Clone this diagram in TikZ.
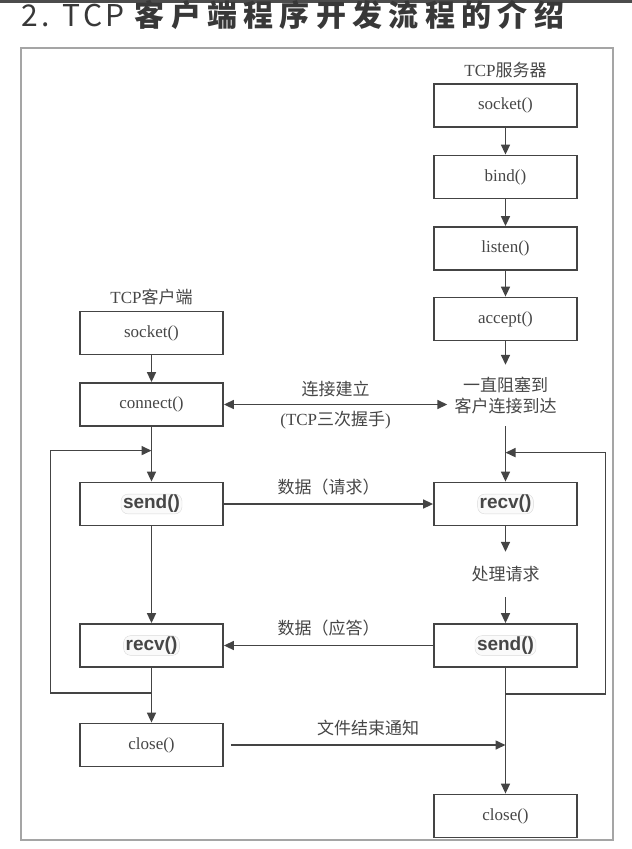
\documentclass[tikz,border=0pt]{standalone}
\usepackage{fontspec}
\setmainfont{Liberation Serif}
\newfontfamily\zhfont{Noto Sans CJK SC}
\newfontfamily\titlefont{Noto Sans CJK SC}
\newfontfamily\boldsans{Liberation Sans}
\usetikzlibrary{positioning,arrows.meta}
\definecolor{linegray}{RGB}{68,68,68}
\definecolor{textgray}{RGB}{70,70,70}
\definecolor{framegray}{RGB}{165,165,165}
\newcommand{\zh}[1]{{\zhfont #1}}

\begin{document}
\begin{tikzpicture}[x=1pt,y=-1pt,
    every node/.style={text=textgray,font=\fontsize{17}{21}\selectfont},
    box/.style={draw=linegray,line width=1.8pt,minimum width=143pt,minimum height=43pt,inner sep=0pt},
    halo/.style={draw=gray!30,fill=gray!4,rounded corners=7pt,inner xsep=2pt,inner ysep=1pt,
      font=\boldsans\bfseries\fontsize{19}{21}\selectfont},
    note/.style={align=center,inner sep=0pt},
    tip/.style={-{Triangle[length=10pt,width=9pt]}},
    arr/.style={draw=linegray,line width=1.6pt,tip}]
  \useasboundingbox (0,0) rectangle (632,849);
  \fill[black!70] (0,0) rectangle (632,2.5);
  % title
  \node[anchor=base west,inner sep=0pt,text=black!78] at (21,26) (title)
    {\titlefont\fontsize{30}{32}\selectfont\addfontfeature{LetterSpace=11}2. TCP \bfseries\addfontfeature{LetterSpace=21}客户端程序开发流程的介绍};
  \draw[framegray,line width=1.2pt] (21,48) rectangle (613,840);

  % client side
  \node at (151.5,297) (clabel) {TCP\zh{客户端}};
  \node[box] at (151.5,333) (csock) {socket()};
  \node[box] at (151.5,404.5) (cconn) {connect()};
  \node[box] at (151.5,504) (csend) {};
  \node[halo] at (csend) (csendtxt) {send()};
  \node[box] at (151.5,645.5) (crecv) {};
  \node[halo] at (crecv) (crecvtxt) {recv()};
  \node[box] at (151.5,745) (cclose) {close()};

  % server side
  \node at (505.5,70) (slabel) {TCP\zh{服务器}};
  \node[box] at (505.5,105.5) (ssock) {socket()};
  \node[box] at (505.5,177) (sbind) {bind()};
  \node[box] at (505.5,248.5) (slisten) {listen()};
  \node[box] at (505.5,319) (saccept) {accept()};
  \node[note,minimum height=61pt,inner xsep=7pt] at (505.5,395.5) (swait) {\zh{一直阻塞到}\\\zh{客户连接到达}};
  \node[box] at (505.5,504) (srecv) {};
  \node[halo] at (srecv) (srecvtxt) {recv()};
  \node[note,minimum height=45pt] at (505.5,574.5) (sproc) {\zh{处理请求}};
  \node[box] at (505.5,645.5) (ssend) {};
  \node[halo] at (ssend) (ssendtxt) {send()};
  \node[box] at (505.5,816) (sclose) {close()};

  % loop points
  \path (crecv.south) ++(0,25) coordinate (cback);
  \path (csend.north) ++(0,-31) coordinate (ctop);
  \path (ssend.south) ++(0,26) coordinate (sback);
  \path (srecv.north) ++(0,-29) coordinate (stop);

  % vertical flow
  \draw[arr] (csock) -- (cconn);
  \draw[arr] (cconn) -- (csend);
  \draw[arr] (csend) -- (crecv);
  \draw[arr] (crecv) -- (cclose);
  \draw[arr] (ssock) -- (sbind);
  \draw[arr] (sbind) -- (slisten);
  \draw[arr] (slisten) -- (saccept);
  \draw[arr] (saccept) -- (swait);
  \draw[arr] (swait) -- (srecv);
  \draw[arr] (srecv) -- (sproc);
  \draw[arr] (sproc) -- (ssend);
  \draw[arr] (ssend) -- (sclose);
  \draw[arr] (cback) -- ++(-101,0) |- (ctop);
  \draw[arr] (sback) -- ++(100,0) |- (stop);

  % messages
  \draw[arr,{Triangle[length=10pt,width=9pt]}-{Triangle[length=10pt,width=9pt]}] (cconn.east) --
    node[above=3pt] {\zh{连接建立}} node[below=3pt] {(TCP\zh{三次握手})} (cconn.east -| swait.west);
  \draw[arr] (csend) -- node[above=5pt] {\zh{数据（请求）}} (srecv);
  \draw[arr] (ssend) -- node[above=5pt] {\zh{数据（应答）}} (crecv);
  \draw[arr] ([xshift=7pt]cclose.east) -- node[above=5pt] {\zh{文件结束通知}} (cclose.east -| ssend.south);
\end{tikzpicture}
\end{document}
